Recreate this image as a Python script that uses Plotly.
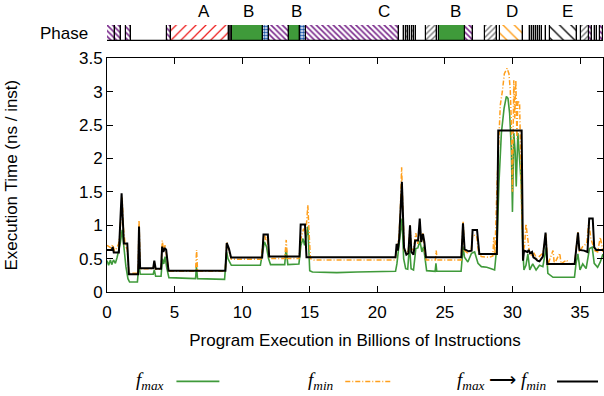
import plotly.graph_objects as go

# ---------------- data ----------------
fmax_x = [0.0,0.12,0.25,0.35,0.48,0.62,0.75,0.85,0.98,1.12,1.25,1.4,1.55,1.67,2.25,2.36,2.46,3.42,3.5,3.6,4.0,4.1,4.2,4.3,4.42,4.58,6.55,6.62,6.7,8.7,8.85,8.95,9.2,11.35,11.5,11.65,11.8,11.95,12.1,13.15,13.25,13.38,14.2,14.35,14.5,14.62,14.86,15.0,15.2,17.0,18.5,20.0,21.35,21.45,21.55,21.68,21.83,21.95,22.1,22.25,22.38,22.5,22.68,22.85,23.0,23.15,23.3,23.42,23.55,23.65,24.28,24.34,24.4,26.2,26.35,26.45,26.7,26.97,27.2,27.45,27.7,28.1,28.43,28.68,28.86,29.0,29.18,29.38,29.55,29.67,29.79,29.92,30.0,30.1,30.2,30.28,30.4,30.53,30.65,30.77,30.85,31.0,31.14,31.28,31.5,31.75,32.0,32.25,32.5,32.62,33.0,34.59,34.7,34.84,35.0,35.2,35.45,35.7,35.9,36.05,36.3,36.5,36.7]
fmax_y = [0.47,0.4,0.48,0.41,0.48,0.43,0.52,0.62,0.73,0.93,0.68,0.38,0.2,0.15,0.15,0.42,0.265,0.265,0.33,0.235,0.235,0.5,0.42,0.53,0.36,0.215,0.2,0.375,0.2,0.19,0.6,0.5,0.4,0.4,0.58,0.75,0.68,0.5,0.41,0.41,0.66,0.41,0.42,0.7,0.8,0.7,0.98,0.32,0.3,0.29,0.3,0.3,0.31,0.42,0.62,0.82,1.1,0.5,0.35,0.34,0.7,0.35,0.33,0.65,0.66,0.77,0.6,0.68,0.42,0.32,0.31,0.43,0.31,0.31,0.68,0.52,0.45,0.58,0.6,0.43,0.38,0.37,0.35,0.33,0.72,1.62,2.38,2.75,2.93,2.9,2.68,2.12,1.2,2.38,2.1,1.58,2.38,2.02,1.62,0.62,0.33,0.4,0.57,0.33,0.42,0.33,0.4,0.38,0.67,0.28,0.22,0.22,0.42,0.57,0.33,0.42,0.35,0.65,0.67,0.43,0.37,0.45,0.57]

fmin_x = [0.0,0.15,0.3,0.42,0.55,0.7,0.85,0.95,1.05,1.12,1.22,1.35,1.5,1.62,2.3,2.37,2.46,3.42,3.5,3.6,4.0,4.09,4.18,4.3,4.42,4.58,6.55,6.63,6.7,8.75,8.86,8.98,9.2,11.4,11.55,11.65,11.75,11.85,12.0,12.2,13.15,13.26,13.35,14.2,14.35,14.55,14.7,14.86,14.95,15.05,15.3,18.0,21.3,21.45,21.6,21.7,21.8,21.9,22.0,22.15,22.3,22.42,22.52,22.7,22.85,23.0,23.15,23.25,23.38,23.5,23.62,24.3,24.36,24.42,26.2,26.35,26.45,26.7,26.95,27.05,27.35,27.5,27.7,28.3,28.55,28.62,28.7,28.86,28.98,29.1,29.25,29.4,29.6,29.74,29.84,29.92,30.0,30.1,30.17,30.25,30.33,30.4,30.53,30.62,30.7,30.8,30.9,31.0,31.12,31.25,31.4,31.6,31.8,32.0,32.25,32.48,32.6,33.0,33.1,33.5,33.6,34.0,34.2,34.6,34.72,34.85,34.95,35.2,35.5,35.65,35.8,35.95,36.1,36.3,36.5,36.7]
fmin_y = [0.7,0.68,0.66,0.71,0.62,0.65,0.72,0.85,1.2,1.42,0.95,0.69,0.64,0.28,0.28,1.07,0.35,0.35,0.45,0.34,0.34,0.77,0.62,0.7,0.52,0.31,0.31,0.63,0.31,0.31,0.75,0.64,0.49,0.49,0.75,0.86,0.78,0.82,0.52,0.5,0.5,0.78,0.5,0.5,0.8,0.95,0.85,1.3,0.9,0.5,0.48,0.48,0.48,0.66,0.82,1.2,1.87,1.2,0.62,0.58,0.62,1.0,0.62,0.66,0.88,0.72,0.98,0.74,0.88,0.62,0.48,0.48,0.62,0.48,0.48,1.05,0.62,0.58,0.62,0.86,0.84,0.58,0.53,0.52,0.54,0.82,0.55,1.62,2.38,2.8,3.0,3.27,3.35,3.27,3.02,2.52,1.5,3.17,2.6,3.17,2.3,2.87,2.82,1.95,1.02,0.6,0.7,1.02,0.82,0.6,0.55,0.58,0.5,0.53,0.58,0.88,0.4,0.62,0.42,0.58,0.42,0.48,0.42,0.43,0.62,0.9,0.6,0.68,0.73,1.05,0.8,0.72,0.62,0.6,0.82,0.6]

switch_x = [0.0,0.35,0.42,0.5,0.88,1.08,1.25,1.5,1.62,2.3,2.37,2.45,3.42,3.5,3.6,4.0,4.08,4.17,4.28,4.38,4.55,8.76,8.86,9.02,9.18,11.48,11.58,11.9,12.0,14.24,14.33,14.65,14.76,21.35,21.43,21.52,21.62,21.82,21.98,22.15,22.3,22.42,22.52,22.68,22.8,23.02,23.14,23.25,23.38,23.48,23.6,26.22,26.34,26.46,26.75,26.98,27.05,27.38,27.55,28.85,28.95,30.68,30.78,30.86,30.98,31.1,31.2,31.3,31.45,31.55,31.7,31.85,32.0,32.25,32.45,32.58,34.6,34.7,34.85,34.95,35.3,35.55,35.68,35.94,36.05,36.2,36.7]
switch_y = [0.63,0.63,0.675,0.59,0.59,1.48,0.725,0.725,0.265,0.265,0.98,0.355,0.355,0.47,0.35,0.35,0.68,0.6,0.66,0.63,0.32,0.32,0.735,0.65,0.515,0.515,0.86,0.86,0.53,0.53,1.01,1.01,0.52,0.52,0.72,0.62,0.8,1.65,0.66,0.56,0.58,1.0,0.6,0.56,0.77,0.77,1.1,0.75,0.87,0.75,0.52,0.52,1.03,0.64,0.61,0.62,0.93,0.93,0.57,0.57,2.42,2.42,0.47,0.62,0.61,0.6,0.63,0.58,0.6,0.52,0.5,0.47,0.46,0.53,0.89,0.42,0.42,0.6,0.89,0.63,0.62,0.6,1.1,1.1,0.67,0.63,0.63]

# phase bar segments: start, end, style
phase_start = [0.0,0.6,1.07,1.42,1.74,4.45,4.74,9.0,9.25,11.55,11.95,13.5,14.3,14.7,21.6,22.0,22.15,22.3,22.45,22.6,22.75,22.9,23.6,24.45,24.6,26.5,27.1,27.95,28.85,29.05,30.8,31.3,31.45,31.6,31.75,31.9,32.05,32.2,32.45,32.8,34.8,35.05,35.65,35.85,36.1,36.25,36.5]
phase_end   = [0.6,1.07,1.42,1.74,4.45,4.74,9.0,9.25,11.55,11.95,13.5,14.3,14.7,21.6,22.0,22.15,22.3,22.45,22.6,22.75,22.9,23.6,24.45,24.6,26.5,27.1,27.95,28.85,29.05,30.8,31.3,31.45,31.6,31.75,31.9,32.05,32.2,32.45,32.8,34.8,35.05,35.65,35.85,36.1,36.25,36.5,36.7]
phase_style = ["purple","purple","white","purple","white","purple","red","dark","green","blue","purple","green","blue","purple","white","white","gray","white","white","gray","white","white","gray","white","green","purple","white","gray","white","orange","white","white","white","white","white","white","white","white","white","black","white","gray","purple","white","white","white","purple"]

phase_labels = ["A", "B", "B", "C", "B", "D", "E"]
phase_label_x = [7.2, 10.5, 14.0, 20.5, 25.75, 30.0, 34.1]

x_ticks = [0, 5, 10, 15, 20, 25, 30, 35]
y_ticks = [0, 0.5, 1, 1.5, 2, 2.5, 3, 3.5]
y_tick_text = ["0", "0.5", "1", "1.5", "2", "2.5", "3", "3.5"]

# ---------------- styles ----------------
GREEN = "#3f9a3a"
ORANGE = "#ff9f1c"
FONT = "Liberation Sans, Arial, sans-serif"
styles = {
    "purple": dict(color="white", pattern=dict(shape="\\", fgcolor="#7a2a8c", bgcolor="white", size=4, solidity=0.4)),
    "red": dict(color="white", pattern=dict(shape="/", fgcolor="#ee2222", bgcolor="white", size=7, solidity=0.18)),
    "green": dict(color=GREEN),
    "blue": dict(color="white", pattern=dict(shape=".", fgcolor="#1f58a8", bgcolor="white", size=3, solidity=0.6)),
    "gray": dict(color="white", pattern=dict(shape="/", fgcolor="#777777", bgcolor="white", size=4, solidity=0.35)),
    "orange": dict(color="white", pattern=dict(shape="\\", fgcolor="#ff9f1c", bgcolor="white", size=8, solidity=0.18)),
    "black": dict(color="white", pattern=dict(shape="\\", fgcolor="#111111", bgcolor="white", size=8, solidity=0.18)),
    "dark": dict(color="#333333"),
    "white": dict(color="white"),
}

# layout geometry (window pixels); the page body margin is removed below
W, H = 604, 396
ML, MR, MT, MB = 106.5, 1, 25, 396 - 291.7
PW = W - ML - MR
PH = H - MT - MB

def wx(x_px):  # window x pixel -> paper x
    return (x_px - ML) / PW
def wy(y_px):  # window y pixel -> paper y
    return (H - MB - y_px) / PH

fig = go.Figure()

for st, sty in styles.items():
    idx = [i for i, s in enumerate(phase_style) if s == st]
    if not idx:
        continue
    xs = [(phase_start[i] + phase_end[i]) / 2 for i in idx]
    ws = [phase_end[i] - phase_start[i] for i in idx]
    marker = dict(color=sty["color"], line=dict(color="black", width=1.2))
    if "pattern" in sty:
        marker["pattern"] = dict(fillmode="replace", **sty["pattern"])
    fig.add_trace(go.Bar(x=xs, y=[1] * len(xs), width=ws, base=0, marker=marker,
                         yaxis="y2", showlegend=False, hoverinfo="skip", name="phase " + st))

fig.add_trace(go.Scatter(x=fmax_x, y=fmax_y, mode="lines", name="f_max",
                         line=dict(color=GREEN, width=1.6), showlegend=False))
fig.add_trace(go.Scatter(x=fmin_x, y=fmin_y, mode="lines", name="f_min",
                         line=dict(color=ORANGE, width=1.5, dash="5px,2px,1px,2px"), showlegend=False))
fig.add_trace(go.Scatter(x=switch_x, y=switch_y, mode="lines", name="f_max -> f_min",
                         line=dict(color="black", width=2), showlegend=False))

annotations = []
for lab, lx in zip(phase_labels, phase_label_x):
    annotations.append(dict(x=lx, y=wy(12), xref="x", yref="paper", text=lab, showarrow=False,
                            font=dict(family=FONT, size=17, color="black"), yanchor="middle"))
annotations.append(dict(x=wx(89), y=wy(33), xref="paper", yref="paper", text="Phase", showarrow=False,
                        xanchor="right", yanchor="middle", font=dict(family=FONT, size=17, color="black")))

# manual legend (text before sample, gnuplot style)
LEG_FONT = dict(family="Liberation Serif, Times New Roman, serif", size=19, color="black")
leg_y = wy(381)
def leg_text(x_px, txt):
    annotations.append(dict(x=wx(x_px), y=leg_y, xref="paper", yref="paper", text=txt,
                            showarrow=False, xanchor="right", yanchor="middle", font=LEG_FONT))
leg_text(166, "<i>f</i><sub><i>max</i></sub>")
leg_text(336, "<i>f</i><sub><i>min</i></sub>")
leg_text(549, "<i>f</i><sub><i>max</i></sub> ⟶ <i>f</i><sub><i>min</i></sub>")

shapes = []
def leg_line(x0, x1, color, width, dash):
    shapes.append(dict(type="line", xref="paper", yref="paper",
                       x0=wx(x0), x1=wx(x1), y0=leg_y, y1=leg_y,
                       line=dict(color=color, width=width, dash=dash)))
leg_line(176, 219, GREEN, 1.6, "solid")
leg_line(345, 392, ORANGE, 1.5, "5px,2px,1px,2px")
leg_line(557, 598, "black", 2, "solid")

fig.update_layout(
    width=W, height=H,
    margin=dict(l=ML, r=MR, t=MT, b=MB, autoexpand=False),
    paper_bgcolor="white", plot_bgcolor="white",
    barmode="overlay", bargap=0,
    font=dict(family=FONT, size=17, color="black"),
    annotations=annotations, shapes=shapes,
    xaxis=dict(range=[0, 36.7], tickvals=x_ticks, ticks="inside", ticklen=6, tickcolor="black",
               showline=True, linecolor="black", linewidth=1, mirror="ticks", showgrid=False, zeroline=False,
               ticklabelstandoff=5,
               title=dict(text="Program Execution in Billions of Instructions", standoff=12,
                          font=dict(family=FONT, size=17)),
               tickfont=dict(family=FONT, size=17), anchor="y", automargin=False),
    yaxis=dict(domain=[0, wy(58.3)], range=[0, 3.5], tickvals=y_ticks, ticktext=y_tick_text,
               ticks="inside", ticklen=6, tickcolor="black",
               showline=True, linecolor="black", linewidth=1, mirror="ticks", showgrid=False, zeroline=False,
               title=dict(text="Execution Time (ns / inst)", standoff=56, font=dict(family=FONT, size=17)),
               tickfont=dict(family=FONT, size=17), automargin=False),
    yaxis2=dict(domain=[wy(41), 1.0], range=[0, 1], showticklabels=False, ticks="", showgrid=False,
                zeroline=False, showline=False, anchor="x", automargin=False),
)

fig.write_html("out.html", config={"displayModeBar": False},
               post_script="document.body.style.margin='0';")
